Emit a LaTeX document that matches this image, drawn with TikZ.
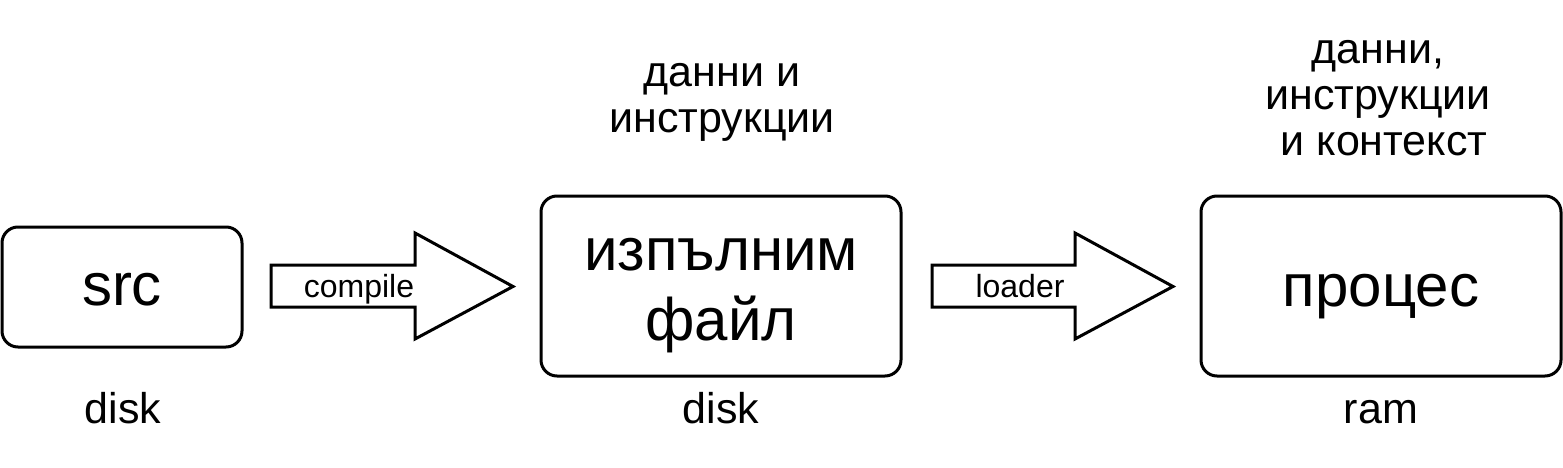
\documentclass[tikz,border=0pt]{standalone}
\usepackage{fontspec}
\setmainfont{Liberation Sans}
\begin{document}
\begin{tikzpicture}[x=1pt,y=-1pt,
  box/.style={draw,line width=3pt,rounded corners=16pt,inner sep=0pt},
  big/.style={font=\fontsize{60}{70}\selectfont,align=center,inner sep=0pt},
  lbl/.style={font=\fontsize{43}{46}\selectfont,align=center,inner sep=0pt},
  alab/.style={font=\fontsize{32}{36}\selectfont,inner sep=0pt},
  blockarrow/.style={draw,line width=3pt,line join=miter,fill=white}]
\useasboundingbox (0,0) rectangle (1563,468);
% boxes
\node[box,minimum width=240pt,minimum height=120pt] (src) at (122,287) {};
\node[box,minimum width=360pt,minimum height=180pt] (exe) at (721,286) {};
\node[box,minimum width=360pt,minimum height=180pt] (proc) at (1381,286) {};
\node[big,anchor=base] (srct) at (122,305) {src};
\node[big,anchor=base] (exet) at (721,340) {изпълним\\файл};
\node[big,anchor=base] (proct) at (1381,306) {процес};
% block arrows
\draw[blockarrow] (271,265) -- (415,265) -- (415,233) -- (513,286.5) -- (415,339) -- (415,307) -- (271,307) -- cycle;
\node[alab,anchor=base] (compile) at (359,297) {compile};
\draw[blockarrow] (932,265) -- (1075,265) -- (1075,233) -- (1173,286.5) -- (1075,339) -- (1075,307) -- (932,307) -- cycle;
\node[alab,anchor=base] (loader) at (1020,297) {loader};
% labels
\node[lbl,anchor=base] (d1) at (123,423) {disk};
\node[lbl,anchor=base] (d2) at (721,423) {disk};
\node[lbl,anchor=base] (ram) at (1381,423) {ram};
\node[lbl,anchor=base] (t1) at (722,132) {данни и\\инструкции};
\node[lbl,anchor=base] (t2) at (1378,155) {данни,\\инструкции\\\ и контекст};
\end{tikzpicture}
\end{document}
